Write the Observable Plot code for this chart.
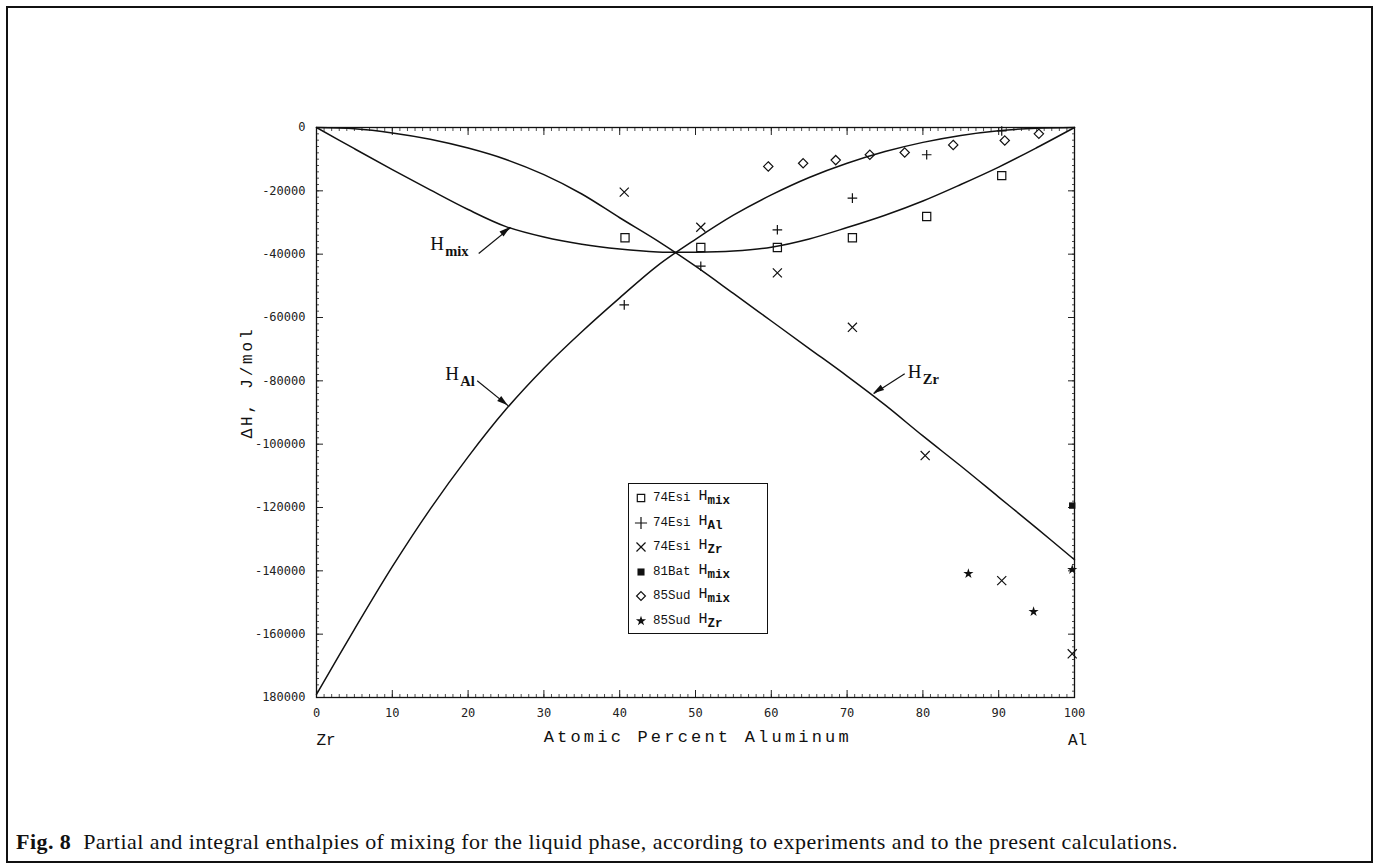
<!DOCTYPE html>
<html><head><meta charset="utf-8">
<script src="https://cdn.jsdelivr.net/npm/d3@7"></script>
<script src="https://cdn.jsdelivr.net/npm/@observablehq/plot@0.6"></script>
<style>
html,body{margin:0;padding:0;background:#fff;}
#page{position:relative;width:1377px;height:865px;overflow:hidden;background:#fff;}
#border{position:absolute;left:6px;top:6px;width:1363px;height:853px;border:2px solid #111;}
#chart{position:absolute;left:0;top:0;}
#legend{position:absolute;left:628px;top:483px;width:138px;height:149px;border:1.6px solid #111;background:#fff;font-family:'Liberation Mono',monospace;font-size:12.5px;color:#111;}
.row{position:absolute;left:0;height:20px;display:flex;align-items:center;white-space:nowrap;}
.row svg{width:24px;height:20px;}
.row .h{margin-left:8px;font-size:15px;}
.row sub{font-size:12.5px;vertical-align:-4px;font-weight:bold;}
#caption{position:absolute;left:16px;top:829px;font-family:'Liberation Serif',serif;font-size:22px;color:#111;white-space:nowrap;letter-spacing:0.45px;}
#caption b{font-weight:bold;}
</style></head>
<body>
<div id="page">
  <div id="border"></div>
  <div id="chart"></div>
  <div id="legend"></div>
  <div id="caption"><b>Fig. 8</b>&nbsp; Partial and integral enthalpies of mixing for the liquid phase, according to experiments and to the present calculations.</div>
</div>
<script>
// ---- calculated curves ----
const calcX     = [0, 5, 10, 15, 20, 25, 30, 35, 40, 45, 50, 55, 60, 65, 70, 75, 80, 85, 90, 95, 100];
const calcHmix  = [0, -6700, -13300, -19700, -25900, -31300, -34600, -36900, -38400, -39300, -39400, -39000, -37800, -35200, -31600, -27700, -23200, -18000, -12500, -6400, 0];
const calcHAl   = [-179000, -158500, -138700, -120500, -104000, -89000, -76000, -64500, -53800, -43600, -35300, -27700, -21300, -15800, -11300, -7600, -4700, -2500, -1000, -250, 0];
const calcHZr   = [0, -400, -1700, -3700, -6500, -10100, -14900, -21000, -28500, -35800, -43800, -52400, -61100, -69800, -78500, -87600, -97400, -106900, -116700, -126500, -136500];

// ---- experimental points ----
const esiMixX = [40.7, 50.7, 60.8, 70.7, 80.5, 90.4];
const esiMixY = [-34800, -37900, -37900, -34800, -28100, -15200];
const esiAlX  = [40.6, 50.7, 60.8, 70.7, 80.5, 90.4];
const esiAlY  = [-56000, -43800, -32300, -22300, -8600, -1100];
const esiZrX  = [40.6, 50.7, 60.8, 70.7, 80.3, 90.4, 99.7];
const esiZrY  = [-20400, -31500, -45900, -63100, -103600, -143100, -166200];
const batMixX = [99.7];
const batMixY = [-119400];
const sudMixX = [59.6, 64.2, 68.5, 73.0, 77.6, 84.0, 90.8, 95.3];
const sudMixY = [-12300, -11300, -10300, -8600, -7900, -5500, -4100, -2000];
const sudZrX  = [86.0, 94.6, 99.7];
const sudZrY  = [-140900, -152900, -139600];

// ---- legend ----
const legendSources = ["74Esi", "74Esi", "74Esi", "81Bat", "85Sud", "85Sud"];
const legendSubs    = ["mix", "Al", "Zr", "mix", "mix", "Zr"];

// ---- ticks ----
const xTicks = [0, 10, 20, 30, 40, 50, 60, 70, 80, 90, 100];
const xTickLabels = ["0", "10", "20", "30", "40", "50", "60", "70", "80", "90", "100"];
const yTicks = [0, -20000, -40000, -60000, -80000, -100000, -120000, -140000, -160000, -180000];
const yTickLabels = ["0", "-20000", "-40000", "-60000", "-80000", "-100000", "-120000", "-140000", "-160000", "180000"];
const xMinor = d3.range(0, 101, 1);
const yMinor = d3.range(0, -180001, -2000);

// ---- curve labels (data coordinates) ----
const curveLabelSubs = ["mix", "Al", "Zr"];
const curveLabelX = [15.0, 17.0, 78.0];
const curveLabelY = [-36700, -77700, -77100];
const arrowX1 = [21.4, 21.2, 77.6];
const arrowY1 = [-39800, -80000, -77800];
const arrowX2 = [25.6, 25.3, 73.5];
const arrowY2 = [-31600, -87900, -84100];

const axisTitle = "Atomic Percent Aluminum";
const yTitle = "ΔH, J/mol";
const endLabels = ["Zr", "Al"];
const endLabelX = [0, 100];

const curves = [
  {name: "Hmix", ys: calcHmix},
  {name: "HAl", ys: calcHAl},
  {name: "HZr", ys: calcHZr}
];
const curveData = curves.flatMap(c => calcX.map((x, i) => ({name: c.name, x, y: c.ys[i]})));
const pts = (xs, ys) => xs.map((x, i) => ({x, y: ys[i]}));
const labelData = curveLabelSubs.map((s, i) => ({sub: s, x: curveLabelX[i], y: curveLabelY[i]}));
const arrowData = arrowX1.map((x, i) => ({x1: x, y1: arrowY1[i], x2: arrowX2[i], y2: arrowY2[i]}));
const ink = "#111";
const tickFont = "'DejaVu Sans Mono', monospace";

const plot = Plot.plot({
  width: 1377, height: 780,
  marginLeft: 316, marginRight: 303, marginTop: 127, marginBottom: 83,
  x: {domain: [0, 100], label: null},
  y: {domain: [-180000, 0], label: null},
  style: {fontFamily: tickFont, fontSize: "12px", color: "#222", background: "transparent", overflow: "visible"},
  marks: [
    // minor ticks on all four sides (inward)
    Plot.axisX(xMinor, {anchor: "bottom", tickSize: -3, tickFormat: () => "", label: null, strokeWidth: 0.8}),
    Plot.axisX(xMinor, {anchor: "top", tickSize: -3, tickFormat: () => "", label: null, strokeWidth: 0.8}),
    Plot.axisY(yMinor, {anchor: "left", tickSize: -3, tickFormat: () => "", label: null, strokeWidth: 0.8}),
    Plot.axisY(yMinor, {anchor: "right", tickSize: -3, tickFormat: () => "", label: null, strokeWidth: 0.8}),
    // major ticks
    Plot.axisX(xTicks, {anchor: "bottom", tickSize: -7, tickPadding: 18, label: null, tickFormat: d => xTickLabels[xTicks.indexOf(d)], fontSize: 12}),
    Plot.axisX(xTicks, {anchor: "top", tickSize: -7, tickFormat: () => "", label: null}),
    Plot.axisY(yTicks, {anchor: "left", tickSize: -7, tickPadding: 18, label: null, tickFormat: d => yTickLabels[yTicks.indexOf(d)], fontSize: 12}),
    Plot.axisY(yTicks, {anchor: "right", tickSize: -7, tickFormat: () => "", label: null}),
    Plot.frame({stroke: ink, strokeWidth: 1.3}),
    // calculated curves
    Plot.line(curveData, {x: "x", y: "y", z: "name", curve: "catmull-rom", stroke: ink, strokeWidth: 1.5}),
    // experimental data
    Plot.dot(pts(esiMixX, esiMixY), {x: "x", y: "y", symbol: "square2", r: 5.2, stroke: ink, fill: "none", strokeWidth: 1.2}),
    Plot.dot(pts(esiAlX, esiAlY), {x: "x", y: "y", symbol: "plus", r: 3.2, stroke: ink, fill: "none", strokeWidth: 1.2}),
    Plot.dot(pts(esiZrX, esiZrY), {x: "x", y: "y", symbol: "times", r: 4.2, stroke: ink, fill: "none", strokeWidth: 1.2}),
    Plot.dot(pts(batMixX, batMixY), {x: "x", y: "y", symbol: "square", r: 3.6, fill: ink, stroke: "none"}),
    Plot.dot(pts(sudMixX, sudMixY), {x: "x", y: "y", symbol: "diamond2", r: 4.2, stroke: ink, fill: "none", strokeWidth: 1.2}),
    Plot.dot(pts(sudZrX, sudZrY), {x: "x", y: "y", symbol: "star", r: 3.2, fill: ink, stroke: "none"}),
    // curve labels
    Plot.text(labelData, {x: "x", y: "y", text: () => "H", textAnchor: "start", fontFamily: "'Liberation Serif', serif", fontSize: 19, fill: ink}),
    Plot.text(labelData, {x: "x", y: "y", text: "sub", textAnchor: "start", dx: 15, dy: 8, fontFamily: "'Liberation Serif', serif", fontSize: 14.5, fontWeight: "bold", fill: ink}),
    Plot.link(arrowData, {x1: "x1", y1: "y1", x2: "x2", y2: "y2", stroke: ink, strokeWidth: 1.2}),
    // axis titles
    Plot.text(endLabels.map((t, i) => ({t, x: endLabelX[i]})), {x: "x", text: "t", frameAnchor: "bottom", dy: 47, textAnchor: "middle", fontFamily: "'Liberation Mono', monospace", fontSize: 16, fill: ink, ariaLabel: () => "endlabel"}),
    Plot.text([axisTitle], {x: () => 50.3, text: d => d, frameAnchor: "bottom", dy: 44, textAnchor: "middle", fontFamily: "'Liberation Mono', monospace", fontSize: 17, fill: ink, ariaLabel: () => "xtitle"}),
    Plot.text([yTitle], {text: d => d, frameAnchor: "left", dx: -70, dy: -30, rotate: -90, textAnchor: "middle", fontFamily: "'Liberation Mono', monospace", fontSize: 16, fill: ink, ariaLabel: () => "ytitle"})
  ]
});
document.getElementById("chart").appendChild(plot);
const svgSel = d3.select(plot);
svgSel.selectAll('[aria-label="xtitle"]').attr("letter-spacing", 3.2);
svgSel.selectAll('[aria-label="ytitle"]').attr("letter-spacing", 2.8);
svgSel.selectAll('[aria-label="endlabel"]').each(function(d, i) {
  if (i === 0) d3.select(this).attr("text-anchor", "start");
  else d3.select(this).attr("dx", 3);
});

// filled arrowheads, positioned through the plot's own scales
const sx = plot.scale("x"), sy = plot.scale("y");
const heads = svgSel.append("g").attr("aria-label", "arrowheads");
arrowData.forEach(a => {
  const x1 = sx.apply(a.x1), y1 = sy.apply(a.y1), x2 = sx.apply(a.x2), y2 = sy.apply(a.y2);
  const ang = Math.atan2(y2 - y1, x2 - x1);
  const L = 11, W = 3.2;
  const bx = x2 - L * Math.cos(ang), by = y2 - L * Math.sin(ang);
  const px = -Math.sin(ang) * W, py = Math.cos(ang) * W;
  heads.append("path")
    .attr("d", `M${x2},${y2}L${bx + px},${by + py}L${bx - px},${by - py}Z`)
    .attr("fill", ink);
});

// ---- legend (HTML) ----
const legendSymbols = [
  {type: d3.symbolSquare2, size: 70, fill: "none", stroke: ink},
  {type: d3.symbolPlus, size: 50, fill: "none", stroke: ink},
  {type: d3.symbolTimes, size: 55, fill: "none", stroke: ink},
  {type: d3.symbolSquare, size: 50, fill: ink, stroke: "none"},
  {type: d3.symbolDiamond2, size: 50, fill: "none", stroke: ink},
  {type: d3.symbolStar, size: 32, fill: ink, stroke: "none"}
];
const leg = d3.select("#legend");
legendSources.forEach((src, i) => {
  const row = leg.append("div").attr("class", "row").style("top", (4 + i * 24.6) + "px");
  const svg = row.append("svg").attr("viewBox", "-12 -10 24 20");
  const s = legendSymbols[i];
  svg.append("path").attr("d", d3.symbol(s.type, s.size)()).attr("fill", s.fill).attr("stroke", s.stroke).attr("stroke-width", 1.2);
  row.append("span").attr("class", "src").text(src);
  const h = row.append("span").attr("class", "h").text("H");
  h.append("sub").text(legendSubs[i]);
});
</script>
</body></html>
